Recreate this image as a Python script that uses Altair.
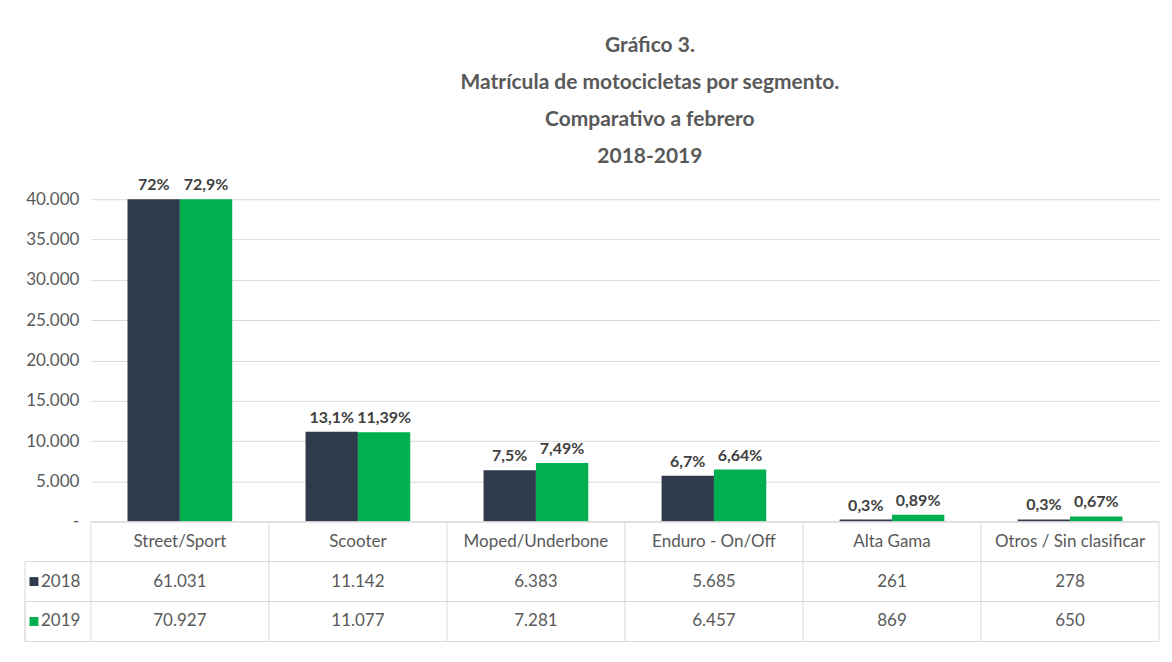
import altair as alt
import pandas as pd

categories = ["Street/Sport", "Scooter", "Moped/Underbone", "Enduro - On/Off",
              "Alta Gama", "Otros / Sin clasificar"]
years = ["2018", "2019"]
values_2018 = [61031, 11142, 6383, 5685, 261, 278]
values_2019 = [70927, 11077, 7281, 6457, 869, 650]
pct_2018 = ["72%", "13,1%", "7,5%", "6,7%", "0,3%", "0,3%"]
pct_2019 = ["72,9%", "11,39%", "7,49%", "6,64%", "0,89%", "0,67%"]
y_ticks = [0, 5000, 10000, 15000, 20000, 25000, 30000, 35000, 40000]
y_max = 40000
title_lines = ["Gráfico 3.", "Matrícula de motocicletas por segmento.",
               "Comparativo a febrero", "2018-2019"]
colors = ["#2f3a4c", "#00b050"]

rows = []
for i, c in enumerate(categories):
    rows.append({"cat": c, "year": "2018", "value": values_2018[i], "pct": pct_2018[i]})
    rows.append({"cat": c, "year": "2019", "value": values_2019[i], "pct": pct_2019[i]})
df = pd.DataFrame(rows)
cat_df = pd.DataFrame({"cat": categories, "row": ["hdr"] * len(categories)})
year_df = pd.DataFrame({"year": years})

W = 1070
PLOT_H = 323
TABLE_H = 120
LEFT_COL = -66
FONT = "Lato"
TXT = "#595959"
GRID = "#d9d9d9"

xscale = alt.Scale(domain=categories, paddingInner=0, paddingOuter=0)
off_scale = alt.Scale(domain=years, paddingInner=0, paddingOuter=0.7)
color_scale = alt.Scale(domain=years, range=colors)
yscale = alt.Scale(domain=[0, y_max], nice=False, zero=True)
row_scale = alt.Scale(domain=["hdr", "2018", "2019"], paddingInner=0, paddingOuter=0)

X = alt.X("cat:N", scale=xscale, axis=None, sort=categories)
XO = alt.XOffset("year:N", scale=off_scale, sort=years)

base = alt.Chart(df).transform_calculate(vis=f"min(datum.value, {y_max})")

bars = base.mark_bar().encode(
    x=X,
    xOffset=XO,
    y=alt.Y("vis:Q", scale=yscale, title=None,
            axis=alt.Axis(values=y_ticks, grid=True, gridColor=GRID, domain=False,
                          ticks=False, labelPadding=12, labelFontSize=17,
                          labelFont=FONT, labelColor=TXT,
                          labelExpr="datum.value == 0 ? '-\u00a0\u00a0\u00a0\u00a0\u00a0\u00a0' : replace(format(datum.value, ','), ',', '.')")),
    color=alt.Color("year:N", scale=color_scale, legend=None),
)

labels = base.mark_text(baseline="bottom", dy=-6, fontSize=16, fontWeight="bold",
                        font=FONT, color="#404040").encode(
    x=X, xOffset=XO, y=alt.Y("vis:Q", scale=yscale), text="pct:N"
)

top = alt.layer(bars, labels).properties(width=W, height=PLOT_H)

# ---- data table ----
R = alt.Y("row:N", scale=row_scale, axis=None)

hdr_text = alt.Chart(cat_df).mark_text(fontSize=17, font=FONT, color=TXT).encode(
    x=X, y=R, text="cat:N")

num_text = alt.Chart(df).transform_calculate(
    row="datum.year",
    txt="replace(format(datum.value, ','), ',', '.')"
).mark_text(fontSize=17, font=FONT, color=TXT).encode(x=X, y=R, text="txt:N")

year_rows = alt.Chart(year_df).transform_calculate(row="datum.year")
yr_text = year_rows.mark_text(align="left", fontSize=17, font=FONT, color=TXT,
                              x=LEFT_COL + 16).encode(y=R, text="year:N")
yr_sq = year_rows.mark_point(shape="square", filled=True, size=80, opacity=1,
                             x=LEFT_COL + 9).encode(
    y=R, color=alt.Color("year:N", scale=color_scale, legend=None))

vlines = alt.Chart(cat_df).mark_rule(color=GRID, strokeWidth=1).encode(
    x=alt.X("cat:N", scale=xscale, axis=None, bandPosition=0),
    y=alt.value(0), y2=alt.value(TABLE_H))
right_line = alt.Chart(cat_df.head(1)).mark_rule(color=GRID).encode(
    x=alt.value(W), y=alt.value(0), y2=alt.value(TABLE_H))
hdr_line = alt.Chart(cat_df.head(1)).mark_rule(color=GRID).encode(
    y=alt.Y("row:N", scale=row_scale, axis=None, bandPosition=0),
    x=alt.value(0), x2=alt.value(W))
row_lines = year_rows.mark_rule(color=GRID).encode(
    y=alt.Y("row:N", scale=row_scale, axis=None, bandPosition=0),
    x=alt.value(LEFT_COL), x2=alt.value(W))
bottom_line = alt.Chart(cat_df.head(1)).mark_rule(color=GRID).encode(
    y=alt.value(TABLE_H), x=alt.value(LEFT_COL), x2=alt.value(W))
left_line = year_rows.mark_rule(color=GRID).encode(
    x=alt.value(LEFT_COL),
    y=alt.Y("row:N", scale=row_scale, axis=None, bandPosition=0),
    y2=alt.value(TABLE_H))

table = alt.layer(vlines, right_line, hdr_line, row_lines, bottom_line, left_line,
                  hdr_text, num_text, yr_sq, yr_text).properties(width=W, height=TABLE_H)

chart = alt.vconcat(top, table, spacing=0, bounds="flush").properties(
    title=alt.Title(title_lines, fontSize=21, font=FONT, fontWeight="bold", color=TXT,
                    lineHeight=37, anchor="middle", dx=58, offset=10),
    padding={"left": 16, "top": 27, "right": 4, "bottom": 6},
    background="white",
).configure_view(stroke=None).resolve_scale(x="independent", color="shared")

chart.save("out.html", embed_options={"renderer": "svg", "actions": False})
